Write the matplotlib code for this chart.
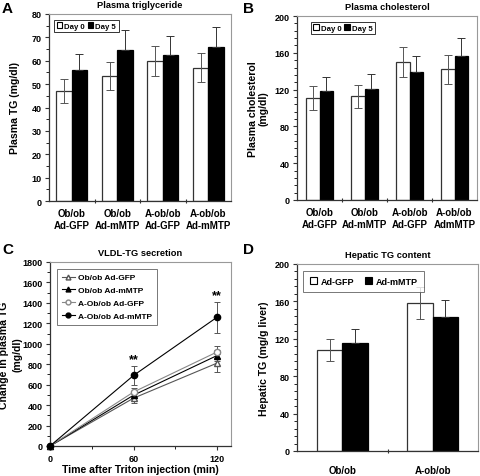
import matplotlib
matplotlib.use("Agg")
import matplotlib.pyplot as plt
import numpy as np
from matplotlib.lines import Line2D
from matplotlib.ticker import MultipleLocator

plt.rcParams['font.family'] = ['Liberation Sans', 'DejaVu Sans']
plt.rcParams['font.weight'] = 'bold'

# Panel A
a_cats = ["Ob/ob\nAd-GFP", "Ob/ob\nAd-mMTP", "A-ob/ob\nAd-GFP", "A-ob/ob\nAd-mMTP"]
a_day0 = [47, 53.5, 60, 57]
a_day0_err = [5.2, 6.0, 6.5, 6.3]
a_day5 = [56, 64.5, 62.5, 66]
a_day5_err = [7.0, 8.5, 8.2, 8.5]

# Panel B
b_cats = ["Ob/ob\nAd-GFP", "Ob/ob\nAd-mMTP", "A-ob/ob\nAd-GFP", "A-ob/ob\nAdmMTP"]
b_day0 = [111, 113, 150, 142]
b_day0_err = [13, 12.5, 16, 16]
b_day5 = [118, 121, 139, 156]
b_day5_err = [16, 16, 18, 20]

# Panel C
c_time = [0, 60, 120]
c_series = ["Ob/ob Ad-GFP", "Ob/ob Ad-mMTP", "A-Ob/ob Ad-GFP", "A-Ob/ob Ad-mMTP"]
c_vals = [[0, 468, 811], [0, 497, 885], [0, 528, 920], [0, 690, 1260]]
c_errs = [[0, 45, 90], [0, 30, 50], [0, 35, 55], [0, 90, 150]]

# Panel D
d_cats = ["Ob/ob", "A-ob/ob"]
d_gfp = [108, 158]
d_gfp_err = [12, 17]
d_mtp = [116, 143]
d_mtp_err = [15, 18]

W, H = 480, 477
fig = plt.figure(figsize=(4.8, 4.77), dpi=100)

def ax_px(l, r, t, b):
    return fig.add_axes([l / W, (H - b) / H, (r - l) / W, (b - t) / H])

def style(ax):
    for s in ['top', 'right']:
        ax.spines[s].set_color('#999999')
        ax.spines[s].set_linewidth(0.8)
    for s in ['left', 'bottom']:
        ax.spines[s].set_color('#333333')
        ax.spines[s].set_linewidth(0.9)
    ax.tick_params(axis='both', labelsize=6.5, length=3, width=0.8, color='#333333', pad=2.5)
    ax.tick_params(axis='y', which='minor', length=2, width=0.6)

def bars(ax, cats, v0, e0, v1, e1, w, ylim, major, minor):
    x = np.arange(len(cats))
    ax.bar(x - w / 2, v0, w, color='white', edgecolor='#333333', linewidth=0.9, zorder=2)
    ax.bar(x + w / 2, v1, w, color='black', edgecolor='black', linewidth=0.9, zorder=2)
    ax.errorbar(x - w / 2, v0, yerr=e0, fmt='none', ecolor='#555555', elinewidth=0.7, capsize=3, capthick=0.7, zorder=3)
    ax.errorbar(x + w / 2, v1, yerr=[np.zeros(len(v1)), e1], fmt='none', ecolor='#333333', elinewidth=0.7, capsize=3, capthick=0.7, zorder=3)
    ax.set_xlim(-0.5, len(cats) - 0.5)
    ax.set_ylim(*ylim)
    ax.yaxis.set_major_locator(MultipleLocator(major))
    ax.yaxis.set_minor_locator(MultipleLocator(minor))
    ax.set_xticks(np.arange(len(cats) - 1) + 0.5)
    ax.set_xticklabels([])
    ax.tick_params(axis='x', length=3, direction='inout')
    for i, c in enumerate(cats):
        ax.text(i, -0.04, c, transform=ax.get_xaxis_transform(), ha='center', va='top',
                fontsize=7, fontweight='bold', linespacing=1.2)
    style(ax)

h = [plt.Rectangle((0, 0), 1, 1, fc='white', ec='black', lw=0.8),
     plt.Rectangle((0, 0), 1, 1, fc='black', ec='black', lw=0.8)]

def day_legend(ax, anchor):
    leg = ax.legend(h, ["Day 0", "Day 5"], loc='upper left', bbox_to_anchor=anchor, ncol=2,
                    fontsize=5.6, frameon=True, fancybox=False, edgecolor='black',
                    handlelength=0.7, handleheight=0.7, handletextpad=0.25, columnspacing=0.4,
                    borderpad=0.35, borderaxespad=0.0)
    leg.get_frame().set_linewidth(0.7)

# A
axA = ax_px(49, 231, 15, 202)
bars(axA, a_cats, a_day0, a_day0_err, a_day5, a_day5_err, 0.34, (0, 80), 10, 5)
axA.set_title("Plasma triglyceride", fontsize=6.7, fontweight='bold', pad=5)
axA.set_ylabel("Plasma TG (mg/dl)", fontsize=7.6, fontweight='bold', labelpad=8)
day_legend(axA, (0.028, 0.97))

# B
axB = ax_px(297, 477, 17, 201)
bars(axB, b_cats, b_day0, b_day0_err, b_day5, b_day5_err, 0.29, (0, 200), 40, 8)
axB.set_title("Plasma cholesterol", fontsize=6.7, fontweight='bold', pad=5)
axB.set_ylabel("Plasma cholesterol\n(mg/dl)", fontsize=7.6, fontweight='bold', labelpad=4, linespacing=1.1)
day_legend(axB, (0.075, 0.97))

# C
axC = ax_px(50, 231, 263, 447)
mk = ['^', '^', 'o', 'o']
fcs = ['white', 'black', 'white', 'black']
cols = ['#555555', 'black', '#888888', 'black']
for i in range(4):
    axC.errorbar(c_time, c_vals[i], yerr=c_errs[i], color=cols[i], ecolor='#555555',
                 marker=mk[i], mfc=fcs[i], mec=cols[i], ms=4.5, lw=0.8, elinewidth=0.7,
                 capsize=2.5, capthick=0.7, label=c_series[i], zorder=3, clip_on=False)
axC.set_xlim(0, 130)
axC.set_ylim(0, 1800)
axC.set_xticks([0, 60, 120])
axC.xaxis.set_minor_locator(MultipleLocator(30))
axC.yaxis.set_major_locator(MultipleLocator(200))
axC.yaxis.set_minor_locator(MultipleLocator(100))
style(axC)
axC.tick_params(axis='x', which='minor', length=2, width=0.6)
axC.text(60, 790, "**", ha='center', va='bottom', fontsize=9, fontweight='bold')
axC.text(120, 1420, "**", ha='center', va='bottom', fontsize=9, fontweight='bold')
axC.set_title("VLDL-TG secretion", fontsize=6.7, fontweight='bold', pad=5)
axC.set_ylabel("Change in plasma TG\n(mg/dl)", fontsize=7.6, fontweight='bold', labelpad=0, linespacing=1.45)
axC.set_xlabel("Time after Triton injection (min)", fontsize=7.6, fontweight='bold', labelpad=1)
handles = [Line2D([0], [0], color=cols[i], marker=mk[i], mfc=fcs[i], mec=cols[i], ms=3.5, lw=0.8)
           for i in range(4)]
leg = axC.legend(handles, c_series, loc='upper left', fontsize=6, frameon=True, fancybox=False,
                 edgecolor='#555555', handlelength=1.6, handletextpad=0.3, borderpad=0.6,
                 labelspacing=0.6, borderaxespad=0.8)
leg.get_frame().set_linewidth(0.7)

# D
axD = ax_px(297, 478, 265, 452)
w = 0.28
x = np.arange(2)
axD.bar(x - w / 2, d_gfp, w, color='white', edgecolor='#333333', linewidth=0.9, zorder=2)
axD.bar(x + w / 2, d_mtp, w, color='black', edgecolor='black', linewidth=0.9, zorder=2)
axD.errorbar(x - w / 2, d_gfp, yerr=d_gfp_err, fmt='none', ecolor='#555555', elinewidth=0.7, capsize=3, capthick=0.7, zorder=3)
axD.errorbar(x + w / 2, d_mtp, yerr=[[0, 0], d_mtp_err], fmt='none', ecolor='#333333', elinewidth=0.7, capsize=3, capthick=0.7, zorder=3)
axD.set_xlim(-0.5, 1.5)
axD.set_ylim(0, 200)
axD.yaxis.set_major_locator(MultipleLocator(40))
axD.yaxis.set_minor_locator(MultipleLocator(8))
axD.set_xticks([0.5])
axD.set_xticklabels([])
style(axD)
axD.tick_params(axis='x', length=3, direction='inout')
for i, c in enumerate(d_cats):
    axD.text(i, -0.075, c, transform=axD.get_xaxis_transform(), ha='center', va='top',
             fontsize=7, fontweight='bold')
axD.set_title("Hepatic TG content", fontsize=6.7, fontweight='bold', pad=5)
axD.set_ylabel("Hepatic TG (mg/g liver)", fontsize=7.6, fontweight='bold', labelpad=4)
leg = axD.legend(h, ["Ad-GFP", "Ad-mMTP"], loc='upper left', bbox_to_anchor=(0.035, 0.965), ncol=2,
                 fontsize=6.5, frameon=True, fancybox=False, edgecolor='#555555',
                 handlelength=0.8, handleheight=0.8, handletextpad=0.4, columnspacing=1.2,
                 borderpad=0.7, borderaxespad=0.0)
leg.get_frame().set_linewidth(0.7)

# panel letters
for lab, (px, py) in zip("ABCD", [(2, 2), (243, 2), (2, 243), (243, 243)]):
    fig.text(px / W, 1 - py / H, lab, ha='left', va='top', fontsize=11, fontweight='bold')

fig.savefig("out.png", dpi=100)
